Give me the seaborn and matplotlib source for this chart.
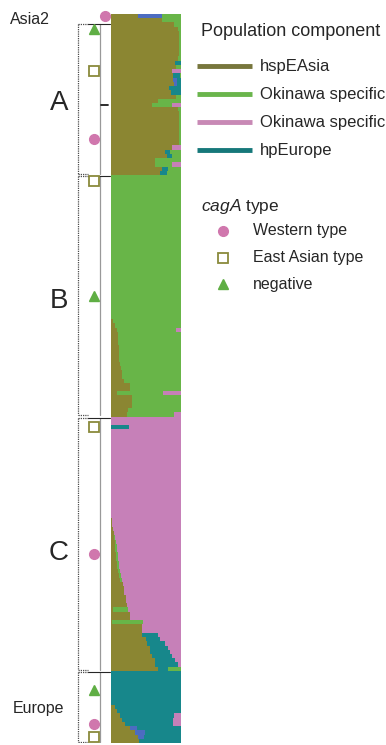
import numpy as np
import pandas as pd
import matplotlib.pyplot as plt
import seaborn as sns

sns.set_style("white")
plt.rcParams['font.family'] = ['Liberation Sans', 'DejaVu Sans']
plt.rcParams['mathtext.fontset'] = 'custom'
plt.rcParams['mathtext.it'] = 'Liberation Sans:italic'
plt.rcParams['mathtext.rm'] = 'Liberation Sans'

# ancestry share (%) per strain, left to right in each bar:
# (hspEAsia, hpAsia2, hpEurope, Okinawa specific green, Okinawa specific pink)
components = ['hspEAsia', 'hpAsia2', 'hpEurope', 'OkiGreen', 'OkiPink']

asia2_rows = [
    (39, 34, 0, 27, 0),
    (73, 0, 0, 27, 0),
]

groupA_rows = [
    (90, 0, 0, 10, 0),
    (95, 0, 0, 5, 0),
    *[(97, 0, 0, 3, 0)] * 6,
    (96, 0, 0, 4, 0),
    (91, 0, 9, 0, 0),
    (93, 0, 0, 7, 0),
    (87, 0, 0, 0, 13),
    (88, 0, 10, 2, 0),
    (88, 6, 6, 0, 0),
    (90, 4, 6, 0, 0),
    (83, 0, 17, 0, 0),
    (85, 0, 15, 0, 0),
    (93, 0, 0, 7, 0),
    (67, 0, 0, 33, 0),
    (59, 0, 0, 28, 13),
    (96, 0, 0, 4, 0),
    *[(97, 0, 0, 3, 0)] * 8,
    (87, 0, 0, 0, 13),
    (77, 0, 7, 16, 0),
    (80, 0, 7, 13, 0),
    (63, 0, 0, 37, 0),
    (63, 0, 0, 24, 13),
    (73, 0, 8, 19, 0),
    (70, 0, 10, 20, 0),
]

groupB_rows = [
    *[(0, 0, 0, 100, 0)] * 34,
    (3, 0, 0, 97, 0),
    (5, 0, 0, 95, 0),
    (8, 0, 0, 85, 7),
    (10, 0, 0, 90, 0),
    (10, 0, 0, 90, 0),
    (10, 0, 0, 90, 0),
    (11, 0, 0, 89, 0),
    (11, 0, 0, 89, 0),
    (11, 0, 0, 89, 0),
    (12, 0, 0, 88, 0),
    (13, 0, 0, 87, 0),
    (14, 0, 0, 86, 0),
    (15, 0, 0, 85, 0),
    (16, 0, 0, 84, 0),
    (18, 0, 0, 82, 0),
    (27, 0, 0, 73, 0),
    (27, 0, 0, 73, 0),
    (9, 0, 0, 65, 26),
    (30, 0, 0, 70, 0),
    (30, 0, 0, 70, 0),
    (30, 0, 0, 70, 0),
    (24, 0, 0, 76, 0),
    (23, 0, 0, 67, 10),
]

groupC_rows = [
    (0, 0, 0, 0, 100),
    (0, 0, 0, 0, 100),
    (0, 0, 26, 0, 74),
    *[(0, 0, 0, 0, 100)] * 21,
    (1, 0, 0, 0, 99),
    (2, 0, 0, 0, 98),
    (3, 0, 0, 0, 97),
    (4, 0, 0, 0, 96),
    (4, 0, 0, 1, 95),
    (5, 0, 0, 2, 93),
    (5, 0, 0, 3, 92),
    (6, 0, 0, 3, 91),
    (7, 0, 0, 3, 90),
    (7, 0, 0, 3, 90),
    (8, 0, 0, 3, 89),
    (9, 0, 0, 3, 88),
    (10, 0, 0, 3, 87),
    (11, 0, 0, 3, 86),
    (13, 0, 0, 2, 85),
    (17, 0, 0, 0, 83),
    (18, 0, 0, 0, 82),
    (19, 0, 0, 0, 81),
    (21, 0, 0, 0, 79),
    (22, 0, 0, 0, 78),
    (23, 0, 0, 0, 77),
    (3, 0, 0, 21, 76),
    (27, 0, 0, 0, 73),
    (27, 0, 0, 0, 73),
    (1, 0, 0, 44, 55),
    (44, 0, 0, 0, 56),
    (44, 0, 0, 0, 56),
    (44, 0, 23, 0, 33),
    (50, 0, 20, 0, 30),
    (52, 0, 25, 0, 23),
    (56, 0, 26, 0, 18),
    (56, 0, 28, 0, 16),
    (59, 0, 28, 0, 13),
    (63, 0, 29, 0, 8),
    (63, 0, 32, 0, 5),
    (67, 0, 14, 19, 0),
]

europe_rows = [
    *[(0, 0, 100, 0, 0)] * 8,
    (5, 0, 95, 0, 0),
    (9, 0, 91, 0, 0),
    (13, 0, 77, 0, 10),
    (16, 0, 72, 0, 12),
    (20, 0, 68, 0, 12),
    (27, 10, 63, 0, 0),
    (34, 14, 52, 0, 0),
    (39, 8, 53, 0, 0),
    (40, 0, 60, 0, 0),
]

group_names = ['Asia2', 'A', 'B', 'C', 'Europe']
group_rows = [asia2_rows, groupA_rows, groupB_rows, groupC_rows, europe_rows]

# cagA type of marked strains (row index in the plot, type)
cag_rows = [0, 3, 13, 29, 39, 66, 97, 127, 159, 167, 170]
cag_types = ['Western type', 'negative', 'East Asian type', 'Western type', 'East Asian type',
             'negative', 'East Asian type', 'Western type', 'negative', 'Western type',
             'East Asian type']

legend_labels = ['hspEAsia', 'Okinawa specific', 'Okinawa specific', 'hpEurope']
legend_comps = ['hspEAsia', 'OkiGreen', 'OkiPink', 'hpEurope']
cag_legend = ['Western type', 'East Asian type', 'negative']

palette = {'hspEAsia': '#8b8632', 'hpAsia2': '#4c6cc0', 'hpEurope': '#17878b',
           'OkiGreen': '#68b548', 'OkiPink': '#c680b8'}
legend_line_colors = {'hspEAsia': '#77763c', 'OkiGreen': '#6ab54c',
                      'OkiPink': '#c889b5', 'hpEurope': '#16787a'}
cag_style = {'Western type': dict(marker='o', mfc='#d077ad', mec='#d077ad', ms=7),
             'East Asian type': dict(marker='s', mfc='white', mec='#8a8a3c', ms=6.5, mew=1.3),
             'negative': dict(marker='^', mfc='#5fae44', mec='#5fae44', ms=7.5)}

# build table
rows = [r for g in group_rows for r in g]
df = pd.DataFrame(rows, columns=components)
df['strain'] = np.arange(len(df))
cum = df[components].cumsum(axis=1)
n = len(df)

W, H = 386, 745
fig = plt.figure(figsize=(W / 100, H / 100), dpi=100)
fig.patch.set_facecolor('white')

bar_top, bar_bot = 14, 743
ax = fig.add_axes([111 / W, (H - bar_bot) / H, 70 / W, (bar_bot - bar_top) / H])
for comp in reversed(components):
    sns.barplot(x=cum[comp].values, y=df['strain'].values, orient='h', color=palette[comp],
                width=1, saturation=1, linewidth=0, errorbar=None, ax=ax)
ax.set_xlim(0, 100)
ax.set_ylim(n - 0.5, -0.5)
ax.axis('off')

# tree / bracket panel on the left
tx = fig.add_axes([0, (H - bar_bot) / H, 111 / W, (bar_bot - bar_top) / H])
tx.set_xlim(0, 111)
tx.set_ylim(n - 0.5, -0.5)
tx.axis('off')

label_shift = {'Asia2': 0.4, 'A': 1.0, 'B': 1.2, 'C': 2.1, 'Europe': 0.4}
starts = np.cumsum([0] + [len(g) for g in group_rows])
for gi, name in enumerate(group_names):
    top, bot = starts[gi] - 0.5, starts[gi + 1] - 0.5
    mid = (top + bot) / 2 + label_shift[name]
    if name == 'Asia2':
        tx.text(30, mid, name, fontsize=11.5, ha='center', va='center')
        continue
    dot = dict(color='0.3', lw=0.9, ls=(0, (1, 0.8)))
    tx.plot([78, 78], [top + 0.3, bot - 0.3], **dot)
    tx.plot([78, 88], [top + 0.3, top + 0.3], **dot)
    tx.plot([78, 88], [bot - 0.3, bot - 0.3], **dot)
    tx.plot([100, 100], [top + 0.3, bot - 0.3], color='0.6', lw=0.9)
    tx.plot([88, 110], [top + 0.3, top + 0.3], color='0.15', lw=0.8)
    if name == 'Europe':
        tx.text(38, mid, name, fontsize=11.5, ha='center', va='center')
    else:
        tx.text(59, mid, name, fontsize=20, ha='center', va='center')
tx.plot([101, 108], [(starts[1] + starts[2]) / 2 + 1, (starts[1] + starts[2]) / 2 + 1],
        color='0.1', lw=1.3)

for r, t in zip(cag_rows, cag_types):
    x = 105 if r == 0 else 94
    tx.plot([x], [r], ls='none', clip_on=False, zorder=5, **cag_style[t])

# legends drawn in pixel coordinates
lg = fig.add_axes([0, 0, 1, 1], zorder=-1)
lg.set_xlim(0, W)
lg.set_ylim(H, 0)
lg.axis('off')

lg.text(201, 31, 'Population component', fontsize=13, va='center', ha='left')
for i, (lab, comp) in enumerate(zip(legend_labels, legend_comps)):
    y = 66 + 28 * i
    lg.plot([197, 252], [y, y], color=legend_line_colors[comp], lw=3.5, solid_capstyle='butt')
    lg.text(260, y, lab, fontsize=12, va='center', ha='left')

lg.text(201, 206, r'$\it{cagA}$ type', fontsize=12.5, va='center', ha='left')
for i, t in enumerate(cag_legend):
    y = 231 + 26.5 * i
    lg.plot([223], [y], ls='none', **cag_style[t])
    lg.text(253, y, t, fontsize=11.5, va='center', ha='left')

fig.savefig('out.png', dpi=100, facecolor='white')
